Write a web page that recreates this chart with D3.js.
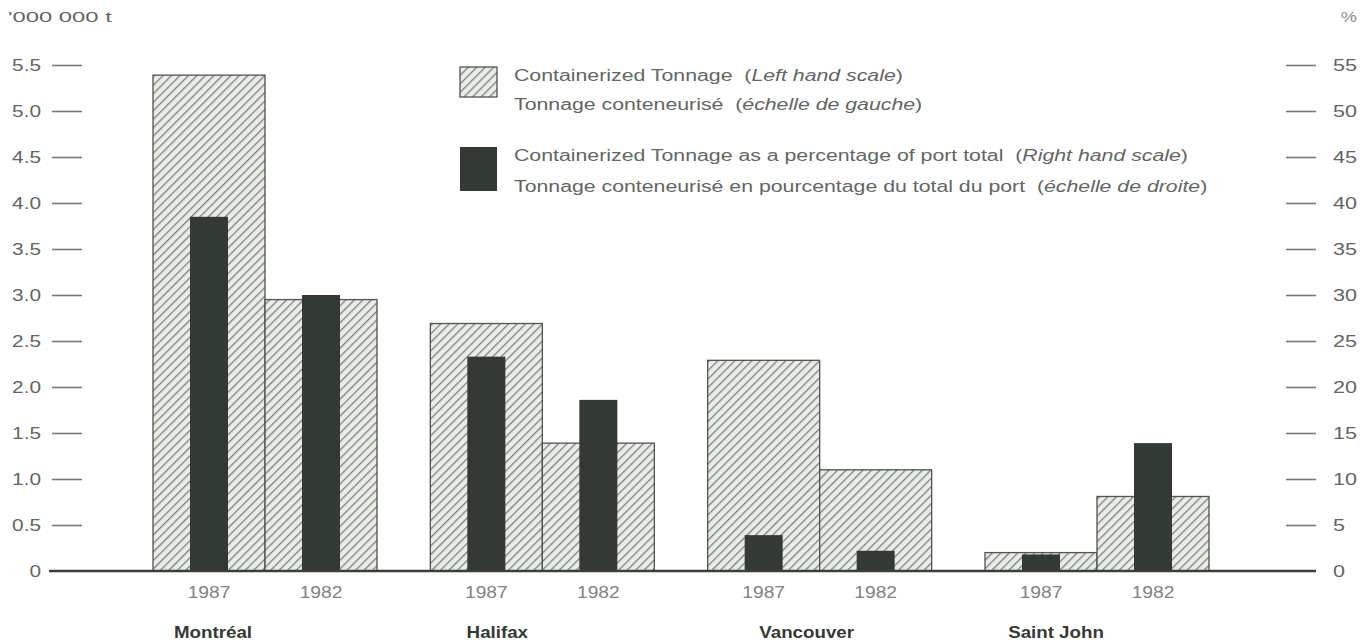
<!DOCTYPE html>
<html>
<head>
<meta charset="utf-8">
<script src="https://cdn.jsdelivr.net/npm/d3@7"></script>
<style>
	body { margin: 0; background: #fff; }
	svg { display: block; font-family: "Liberation Sans", Arial, sans-serif; }
</style>
</head>
<body>
<div class="holder"></div>
<script>
// data
var ports = ["Montréal", "Halifax", "Vancouver", "Saint John"];
var years = ["1987", "1982"];
var tonnage1987 = [5.39, 2.69, 2.29, 0.2];	// '000 000 t
var tonnage1982 = [2.95, 1.39, 1.1, 0.81];
var percent1987 = [38.5, 23.3, 3.9, 1.8];	// % of port total
var percent1982 = [30.0, 18.6, 2.2, 13.9];
var leftTicks = [0, 0.5, 1, 1.5, 2, 2.5, 3, 3.5, 4, 4.5, 5, 5.5];
var rightTicks = [0, 5, 10, 15, 20, 25, 30, 35, 40, 45, 50, 55];

// layout
var width = 1362;
var height = 640;
var baseY = 571;
var topY = 65;
var barW = 112;
var darkW = 38;
var portLabelShift = [-52, -45, -13, -41];

var textCol = "#5f675f";
var tickCol = "#6f7d6f";
var darkCol = "#333a33";

var chart = d3.select(".holder")
	.append("svg")
	.attr("width", width)
	.attr("height", height);

// the scanned type is wider than our fonts, so stretch text sideways
function stretch(sel, factor) {
	sel.each(function() {
		var w = this.getComputedTextLength();
		d3.select(this)
			.attr("textLength", w * factor)
			.attr("lengthAdjust", "spacingAndGlyphs");
	});
}

/*	hatch pattern for the tonnage bars */
var pat = chart.append("defs").append("pattern")
	.attr("id", "hatch")
	.attr("patternUnits", "userSpaceOnUse")
	.attr("width", 6)
	.attr("height", 6)
	.attr("patternTransform", "rotate(45)");
pat.append("rect").attr("width", 6).attr("height", 6).attr("fill", "#eaece7");
pat.append("line")
	.attr("x1", 0).attr("y1", 0).attr("x2", 0).attr("y2", 6)
	.attr("stroke", "#767e76")
	.attr("stroke-width", 2.5);

var yLeft = d3.scaleLinear().domain([0, 5.5]).range([baseY, topY]);
var yRight = d3.scaleLinear().domain([0, 55]).range([baseY, topY]);
var xPort = d3.scalePoint().domain(ports).range([265, 1097]);
var xYear = d3.scaleBand().domain(years).range([-barW, barW]);

// axes
var leftAxis = d3.axisLeft(yLeft)
	.tickValues(leftTicks)
	.tickSize(30)
	.tickPadding(11)
	.tickFormat(function(d) { return d === 0 ? "0" : d.toFixed(1); });

var rightAxis = d3.axisRight(yRight)
	.tickValues(rightTicks)
	.tickSize(30)
	.tickPadding(17)
	.tickFormat(d3.format("d"));

var gl = chart.append("g").attr("transform", "translate(82,0)").call(leftAxis);
var gr = chart.append("g").attr("transform", "translate(1286,0)").call(rightAxis);

[gl, gr].forEach(function(g) {
	g.select(".domain").remove();
	g.selectAll(".tick line").attr("stroke", tickCol).attr("stroke-width", 1.6);
	g.selectAll(".tick text")
		.attr("fill", textCol)
		.style("font-size", "16px")
		.style("font-family", "Liberation Sans, Arial, sans-serif");
});
stretch(gl.selectAll(".tick text"), 1.3);
stretch(gr.selectAll(".tick text"), 1.35);
// no tick mark at zero
gl.selectAll(".tick").filter(function(d) { return d === 0; }).select("line").remove();
gr.selectAll(".tick").filter(function(d) { return d === 0; }).select("line").remove();

// unit labels
chart.append("text").attr("x", 8).attr("y", 22)
	.attr("fill", textCol).style("font-size", "14px").text("'000 000 t")
	.call(stretch, 1.7);
chart.append("text").attr("x", 1357).attr("y", 22).attr("text-anchor", "end")
	.attr("fill", "#8a928a").style("font-size", "14px").text("%")
	.call(stretch, 1.3);

// bars
var rows = [];
ports.forEach(function(p, i) {
	rows.push({ port: p, year: "1987", ton: tonnage1987[i], pct: percent1987[i] });
	rows.push({ port: p, year: "1982", ton: tonnage1982[i], pct: percent1982[i] });
});

var bars = chart.append("g");

bars.selectAll("rect.ton")
	.data(rows)
	.enter().append("rect")
	.attr("class", "ton")
	.attr("x", function(d) { return xPort(d.port) + xYear(d.year); })
	.attr("y", function(d) { return yLeft(d.ton); })
	.attr("width", xYear.bandwidth())
	.attr("height", function(d) { return baseY - yLeft(d.ton); })
	.attr("fill", "url(#hatch)")
	.attr("stroke", "#4f554f")
	.attr("stroke-width", 1.3);

bars.selectAll("rect.pct")
	.data(rows)
	.enter().append("rect")
	.attr("class", "pct")
	.attr("x", function(d) { return xPort(d.port) + xYear(d.year) + (xYear.bandwidth() - darkW) / 2; })
	.attr("y", function(d) { return yRight(d.pct); })
	.attr("width", darkW)
	.attr("height", function(d) { return baseY - yRight(d.pct); })
	.attr("fill", darkCol);

// baseline
chart.append("line")
	.attr("x1", 49).attr("x2", 1316)
	.attr("y1", baseY).attr("y2", baseY)
	.attr("stroke", "#3a3f3a")
	.attr("stroke-width", 2.6);

// year labels under each bar
bars.selectAll("text.year")
	.data(rows)
	.enter().append("text")
	.attr("class", "year")
	.attr("x", function(d) { return xPort(d.port) + xYear(d.year) + xYear.bandwidth() / 2; })
	.attr("y", 598)
	.attr("text-anchor", "middle")
	.attr("fill", "#7c847c")
	.style("font-size", "16px")
	.text(function(d) { return d.year; })
	.call(stretch, 1.2);

// port names
chart.selectAll("text.port")
	.data(ports)
	.enter().append("text")
	.attr("class", "port")
	.attr("x", function(d, i) { return xPort(d) + portLabelShift[i]; })
	.attr("y", 638)
	.attr("text-anchor", "middle")
	.attr("fill", "#333a33")
	.style("font-size", "16px")
	.style("font-weight", "bold")
	.text(function(d) { return d; })
	.call(stretch, 1.17);

// legend
var legend = chart.append("g");
legend.append("rect")
	.attr("x", 460).attr("y", 67).attr("width", 37).attr("height", 30)
	.attr("fill", "url(#hatch)").attr("stroke", "#4f554f").attr("stroke-width", 1.3);
legend.append("rect")
	.attr("x", 460).attr("y", 147).attr("width", 37).attr("height", 44)
	.attr("fill", darkCol);

function legendLine(y, plain, italic) {
	var t = legend.append("text")
		.attr("x", 514).attr("y", y)
		.attr("fill", textCol)
		.style("font-size", "16px")
		.style("white-space", "pre");
	t.append("tspan").text(plain + "  (");
	t.append("tspan").style("font-style", "italic").text(italic);
	t.append("tspan").text(")");
	stretch(t, 1.33);
}
legendLine(81, "Containerized Tonnage", "Left hand scale");
legendLine(110, "Tonnage conteneurisé", "échelle de gauche");
legendLine(161, "Containerized Tonnage as a percentage of port total", "Right hand scale");
legendLine(192, "Tonnage conteneurisé en pourcentage du total du port", "échelle de droite");
</script>
</body>
</html>
